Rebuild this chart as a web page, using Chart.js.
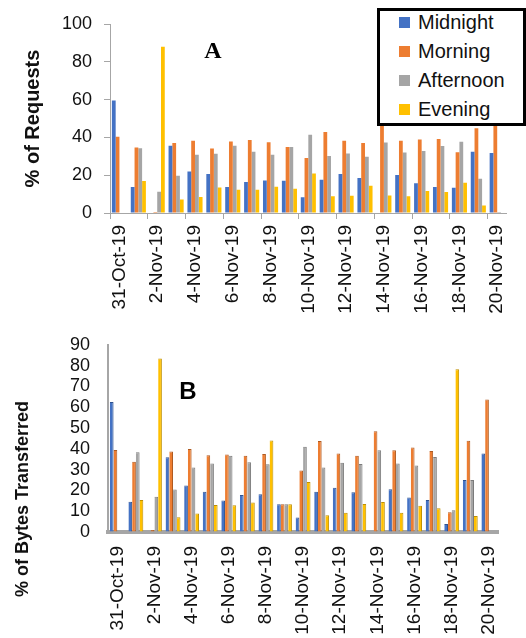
<!DOCTYPE html>
<html>
<head>
<meta charset="utf-8">
<script src="https://cdn.jsdelivr.net/npm/chart.js@4.4.1/dist/chart.umd.min.js"></script>
<style>
body { margin: 0; background: #fff; width: 526px; height: 638px; overflow: hidden; position: relative; font-family: "Liberation Sans", Arial, sans-serif; }
#wrapA { position: absolute; left: 0; top: 0; width: 526px; height: 316px; }
#wrapB { position: absolute; left: 0; top: 316px; width: 526px; height: 322px; }
#legend { position: absolute; left: 377px; top: 8px; width: 143px; height: 112px; border: 3px solid #000; background: #fff; }
#legend .row { position: absolute; left: 19px; height: 29px; line-height: 29px; font-size: 20px; color: #111; white-space: nowrap; }
#legend .sw { display: inline-block; width: 11px; height: 11px; margin-right: 8px; vertical-align: 1px; }
</style>
</head>
<body>
<div id="wrapA"><canvas id="chartA" width="526" height="316"></canvas></div>
<div id="wrapB"><canvas id="chartB" width="526" height="322"></canvas></div>
<div id="legend"></div>
<script>
const days = ['31-Oct-19','1-Nov-19','2-Nov-19','3-Nov-19','4-Nov-19','5-Nov-19','6-Nov-19',
    '7-Nov-19','8-Nov-19','9-Nov-19','10-Nov-19','11-Nov-19','12-Nov-19','13-Nov-19',
    '14-Nov-19','15-Nov-19','16-Nov-19','17-Nov-19','18-Nov-19','19-Nov-19','20-Nov-19']
const periods = ['Midnight', 'Morning', 'Afternoon', 'Evening']

// A: % of requests
const reqMidnight  = [59.5, 13.7, 0, 35.6, 22, 20.6, 13.7, 16.4, 17.2, 17.1, 8.3, 17.6, 20.6, 18.5, 0, 20.1, 15.8, 13.7, 13.4, 32.4, 31.7]
const reqMorning   = [40.3, 34.7, 0.5, 37, 38.2, 34.1, 37.8, 38.6, 37.5, 34.9, 29.1, 42.8, 38.2, 37, 48, 38.2, 38.9, 39.2, 32.2, 44.9, 48]
const reqAfternoon = [0, 34.3, 11.3, 19.7, 30.8, 31.3, 35.6, 32.4, 30.8, 34.9, 41.4, 30.1, 31.5, 29.7, 37.3, 32, 32.8, 35.4, 37.7, 18.1, 0.5]
const reqEvening   = [0, 16.9, 87.9, 7.2, 8.5, 13.5, 12.3, 12.3, 13.9, 12.8, 20.9, 8.8, 9.1, 14.4, 9.3, 8.8, 11.6, 11.1, 16, 4, 0]

// B: % of bytes transferred
const bytesMidnight  = [62.5, 14.5, 0, 35.9, 22.4, 19.3, 15.1, 17.8, 18.2, 13.3, 7, 19.3, 21.3, 19.1, 0, 20.6, 16.6, 15.4, 3.9, 25, 37.8]
const bytesMorning   = [39.4, 33.8, 1, 38.7, 39.9, 36.9, 37.3, 36.7, 37.5, 13.3, 29.6, 43.7, 37.8, 36.6, 48.4, 39.3, 40.6, 39, 9.5, 43.9, 63.7]
const bytesAfternoon = [0, 38.4, 17, 20.4, 31, 32.9, 36.7, 33.5, 32.6, 13.3, 41, 31, 33.3, 32.7, 39.3, 32.9, 32, 36, 10.4, 25, 0]
const bytesEvening   = [0, 15.4, 83.4, 7.1, 8.9, 13, 12.9, 14.2, 44, 13.3, 24, 8.1, 9.3, 13.5, 14.4, 9.2, 12.6, 11.4, 78.2, 7.7, 0]

const reqTicks = [0, 20, 40, 60, 80, 100]
const bytesTicks = [0, 10, 20, 30, 40, 50, 60, 70, 80, 90]

const colors = ['#4472C4', '#ED7D31', '#A5A5A5', '#FFC000']
const edges = ['#2F528F', '#AE5A21', '#7B7B7B', '#BF9000']
const axisGray = '#A6A6A6'
const tickFont = { family: '"Liberation Sans", Arial, sans-serif', size: 18 }
const dateFont = { family: '"Liberation Sans", Arial, sans-serif', size: 19 }

// small text marks: panel letters and a free-placed axis title
const textMarks = {
    id: 'textMarks',
    afterDraw(chart, args, opts) {
        const ctx = chart.ctx
        for (const t of (opts.items || [])) {
            ctx.save()
            ctx.fillStyle = t.color || '#000'
            ctx.font = t.font
            ctx.textAlign = t.align || 'center'
            ctx.textBaseline = 'middle'
            ctx.translate(t.x, t.y)
            if (t.rotate) ctx.rotate(-Math.PI / 2)
            ctx.fillText(t.text, 0, 0)
            ctx.restore()
        }
    }
}

const buildSets = (series, threeD) => {
    return series.map((vals, i) => ({
        label: periods[i],
        data: vals,
        backgroundColor: colors[i],
        borderColor: threeD ? edges[i] : colors[i],
        borderWidth: threeD ? { top: 1, right: 1, left: 0, bottom: 0 } : 0,
        categoryPercentage: 0.8,
        barPercentage: 1.0
    }))
}

const xAxis = (height, withMarks, pad) => ({
    type: 'category',
    afterFit: (s) => { s.height = height },
    border: { color: axisGray, width: withMarks ? 1 : 4 },
    grid: {
        offset: true,
        drawOnChartArea: false,
        drawTicks: withMarks,
        tickLength: 6,
        color: (c) => (c.index % 2 === 0 ? axisGray : 'rgba(0,0,0,0)')
    },
    ticks: {
        autoSkip: false,
        minRotation: 90,
        maxRotation: 90,
        padding: pad,
        color: '#111',
        font: dateFont,
        callback: (v, i) => (i % 2 === 0 ? days[i] : '')
    }
})

// chart A
new Chart(document.getElementById('chartA').getContext('2d'), {
    type: 'bar',
    data: { labels: days, datasets: buildSets([reqMidnight, reqMorning, reqAfternoon, reqEvening], false) },
    options: {
        responsive: false,
        animation: false,
        layout: { padding: { top: 24, right: 0, left: 0, bottom: 0 } },
        plugins: {
            legend: { display: false },
            tooltip: { enabled: false },
            textMarks: { items: [{ text: 'A', x: 213, y: 52, font: 'bold 24px "Liberation Serif", serif' }] }
        },
        scales: {
            x: xAxis(103, true, 6),
            y: {
                min: 0, max: 100,
                afterFit: (s) => { s.width = 110 },
                afterBuildTicks: (s) => { s.ticks = reqTicks.map(v => ({ value: v })) },
                border: { color: axisGray, width: 1 },
                grid: { drawOnChartArea: false, tickLength: 6, color: axisGray },
                ticks: { autoSkip: false, padding: 12, color: '#111', font: tickFont },
                title: {
                    display: true,
                    text: '% of Requests',
                    color: '#111',
                    font: { family: '"Liberation Sans", Arial, sans-serif', size: 20, weight: 'bold' },
                    padding: { top: 21, bottom: 0 }
                }
            }
        }
    },
    plugins: [textMarks]
})

// chart B
new Chart(document.getElementById('chartB').getContext('2d'), {
    type: 'bar',
    data: { labels: days, datasets: buildSets([bytesMidnight, bytesMorning, bytesAfternoon, bytesEvening], true) },
    options: {
        responsive: false,
        animation: false,
        layout: { padding: { top: 13, right: 14, left: 0, bottom: 0 } },
        plugins: {
            legend: { display: false },
            tooltip: { enabled: false },
            textMarks: {
                items: [
                    { text: 'B', x: 188, y: 76, font: 'bold 24px "Liberation Sans", Arial, sans-serif' },
                    { text: '% of Bytes Transferred', x: 23, y: 281, rotate: true, align: 'left',
                      font: 'bold 18px "Liberation Sans", Arial, sans-serif', color: '#111' }
                ]
            }
        },
        scales: {
            x: xAxis(106, false, 14),
            y: {
                min: 0, max: 90,
                afterFit: (s) => { s.width = 108 },
                afterBuildTicks: (s) => { s.ticks = bytesTicks.map(v => ({ value: v })) },
                border: { color: axisGray, width: 2 },
                grid: { drawOnChartArea: false, drawTicks: false },
                ticks: { autoSkip: false, padding: 18, color: '#111', font: tickFont }
            }
        }
    },
    plugins: [textMarks]
})

// legend box laid over chart A
const legend = document.getElementById('legend')
periods.forEach((p, i) => {
    const row = document.createElement('div')
    row.className = 'row'
    row.style.top = (i * 29 - 3) + 'px'
    row.innerHTML = '<span class="sw" style="background:' + colors[i] + '"></span>' + p
    legend.appendChild(row)
})
</script>
</body>
</html>
